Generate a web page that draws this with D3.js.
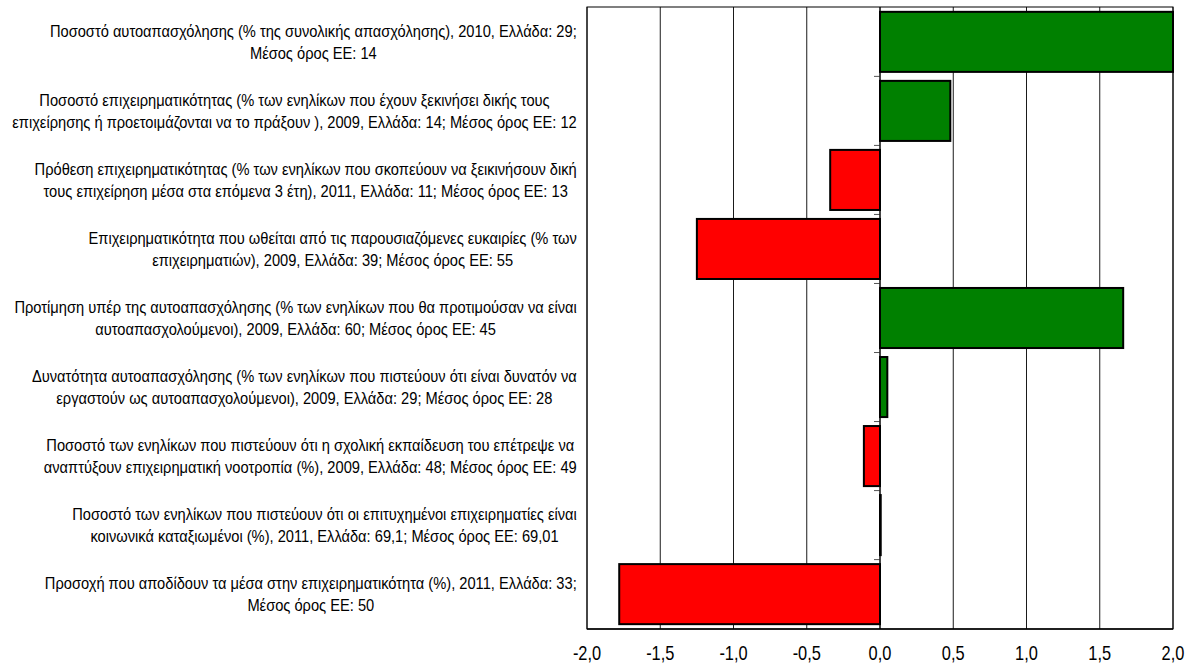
<!DOCTYPE html>
<html>
<head>
<meta charset="utf-8">
<script src="https://cdn.jsdelivr.net/npm/d3@7"></script>
<style>
  body { margin: 0; background: #fff; }
  svg { display: block; }
</style>
</head>
<body>
<svg id="chart" width="1187" height="666"></svg>
<script>
// Indicator labels (two lines each), top to bottom
const labelLines = [
  ["Ποσοστό αυτοαπασχόλησης (% της συνολικής απασχόλησης), 2010, Ελλάδα: 29;", "Μέσος όρος ΕΕ: 14"],
  ["Ποσοστό επιχειρηματικότητας (% των ενηλίκων που έχουν ξεκινήσει δικής τους", "επιχείρησης ή προετοιμάζονται να το πράξουν ), 2009, Ελλάδα: 14; Μέσος όρος ΕΕ: 12"],
  ["Πρόθεση επιχειρηματικότητας (% των ενηλίκων που σκοπεύουν να ξεικινήσουν δική", "τους επιχείρηση μέσα στα επόμενα 3 έτη), 2011, Ελλάδα: 11; Μέσος όρος ΕΕ: 13"],
  ["Επιχειρηματικότητα που ωθείται από τις παρουσιαζόμενες ευκαιρίες (% των", "επιχειρηματιών), 2009, Ελλάδα: 39; Μέσος όρος ΕΕ: 55"],
  ["Προτίμηση υπέρ της αυτοαπασχόλησης (% των ενηλίκων που θα προτιμούσαν να είναι", "αυτοαπασχολούμενοι), 2009, Ελλάδα: 60; Μέσος όρος ΕΕ: 45"],
  ["Δυνατότητα αυτοαπασχόλησης (% των ενηλίκων που πιστεύουν ότι είναι δυνατόν να", "εργαστούν ως αυτοαπασχολούμενοι), 2009, Ελλάδα: 29; Μέσος όρος ΕΕ: 28"],
  ["Ποσοστό των ενηλίκων που πιστεύουν ότι η σχολική εκπαίδευση του επέτρεψε να", "αναπτύξουν επιχειρηματική νοοτροπία (%), 2009, Ελλάδα: 48; Μέσος όρος ΕΕ: 49"],
  ["Ποσοστό των ενηλίκων που πιστεύουν ότι οι επιτυχημένοι επιχειρηματίες είναι", "κοινωνικά καταξιωμένοι (%), 2011, Ελλάδα:  69,1; Μέσος όρος ΕΕ: 69,01"],
  ["Προσοχή που αποδίδουν τα μέσα στην επιχειρηματικότητα (%), 2011, Ελλάδα: 33;", "Μέσος όρος ΕΕ: 50"]
];

// Standardised deviation of Greece from the EU average
const values = [2.0, 0.48, -0.34, -1.25, 1.66, 0.05, -0.11, 0.005, -1.78];

// Axis ticks
const xDomain = [-2, 2];
const xTicks = [-2, -1.5, -1, -0.5, 0, 0.5, 1, 1.5, 2];

const svg = d3.select("#chart");
const plot = { left: 587, right: 1173, top: 7, bottom: 629 };
const labelRight = 577, labelLeft = 12;

const x = d3.scaleLinear().domain(xDomain).range([plot.left, plot.right]);
const y = d3.scaleBand()
  .domain(d3.range(values.length))
  .range([plot.top, plot.bottom])
  .paddingInner(0.13)
  .paddingOuter(0.07);

const locale = d3.formatLocale({ decimal: ",", thousands: ".", grouping: [3], currency: ["", "€"], minus: "-" });
const fmt = locale.format(".1f");

const font = "'Liberation Sans', Arial, sans-serif";

// Vertical gridlines
svg.append("g")
  .selectAll("line")
  .data(xTicks)
  .join("line")
  .attr("x1", d => x(d)).attr("x2", d => x(d))
  .attr("y1", plot.top).attr("y2", plot.bottom)
  .attr("stroke", "#1a1a1a")
  .attr("stroke-width", 1);

// Plot frame
svg.append("rect")
  .attr("x", plot.left).attr("y", plot.top)
  .attr("width", plot.right - plot.left).attr("height", plot.bottom - plot.top)
  .attr("fill", "none").attr("stroke", "#000").attr("stroke-width", 1);

// Category axis on the zero line: small ticks between bands
const half = y.step() * y.paddingInner() / 2;
const boundaries = d3.range(1, values.length).map(i => y(i) - half);
svg.append("g")
  .selectAll("line")
  .data(boundaries)
  .join("line")
  .attr("x1", x(0) - 6).attr("x2", x(0))
  .attr("y1", d => d).attr("y2", d => d)
  .attr("stroke", "#555").attr("stroke-width", 1);

// Bars
svg.append("g")
  .selectAll("rect")
  .data(values)
  .join("rect")
  .attr("x", d => x(Math.min(0, d)))
  .attr("width", d => Math.abs(x(d) - x(0)))
  .attr("y", (d, i) => y(i))
  .attr("height", y.bandwidth())
  .attr("fill", d => d >= 0 ? "#008000" : "#ff0000")
  .attr("stroke", "#000")
  .attr("stroke-width", 2);

// Zero line
svg.append("line")
  .attr("x1", x(0)).attr("x2", x(0))
  .attr("y1", plot.top).attr("y2", plot.bottom)
  .attr("stroke", "#000").attr("stroke-width", 1);

// Bottom axis line and tick labels
svg.append("line")
  .attr("x1", plot.left).attr("x2", plot.right)
  .attr("y1", plot.bottom).attr("y2", plot.bottom)
  .attr("stroke", "#000").attr("stroke-width", 1.5);

svg.append("g")
  .selectAll("text")
  .data(xTicks)
  .join("text")
  .attr("transform", d => `translate(${x(d)},653) scale(0.82,1)`)
  .attr("dy", "0.35em")
  .attr("text-anchor", "middle")
  .attr("font-family", font)
  .attr("font-size", 20)
  .attr("fill", "#000")
  .text(d => fmt(d));

// Category labels: lines centred within a block right-aligned to the plot
const labelG = svg.append("g")
  .attr("font-family", font)
  .attr("font-size", 17)
  .attr("fill", "#000");

const groups = labelG.selectAll("g")
  .data(labelLines)
  .join("g");

groups.selectAll("text")
  .data(d => d)
  .join("text")
  .attr("text-anchor", "middle")
  .attr("y", (d, i, n) => (i - (n.length - 1) / 2) * 22)
  .attr("dy", "0.35em")
  .text(d => d);

// fit the widest line into the space left of the plot
let maxW = 0;
groups.each(function () {
  d3.select(this).selectAll("text").each(function () {
    maxW = Math.max(maxW, this.getComputedTextLength());
  });
});
const sx = (labelRight - labelLeft) / maxW;

groups.attr("transform", function (d, i) {
  let w = 0;
  d3.select(this).selectAll("text").each(function () { w = Math.max(w, this.getComputedTextLength()); });
  const cx = labelRight - (w * sx) / 2;
  const cy = y(i) + y.bandwidth() / 2;
  return `translate(${cx},${cy}) scale(${sx},1)`;
});
</script>
</body>
</html>
